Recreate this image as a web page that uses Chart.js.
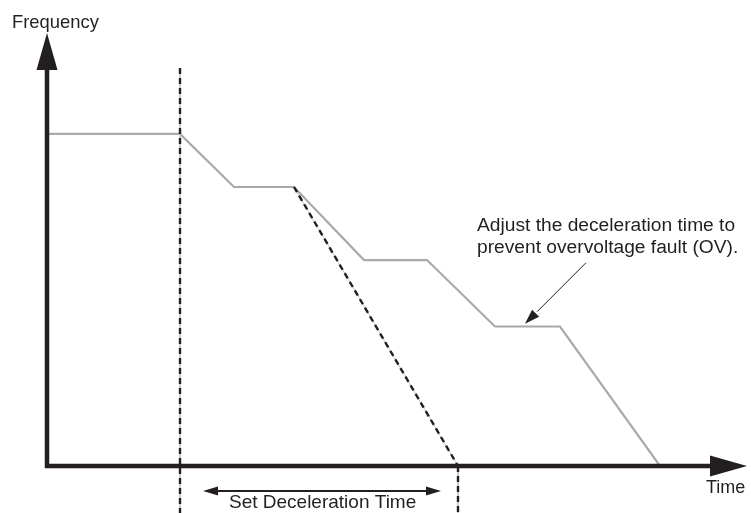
<!DOCTYPE html>
<html>
<head>
<meta charset="utf-8">
<script src="https://cdn.jsdelivr.net/npm/chart.js@4/dist/chart.umd.min.js"></script>
<style>
  body { margin: 0; background: #fff; }
  canvas { display: block; }
</style>
</head>
<body>
<canvas id="myChart" width="751" height="513"></canvas>
<script>
// frequency profile while decelerating (time units / frequency units)
var profileTime = [0, 13.3, 18.7, 24.7, 31.7, 38.0, 44.8, 51.3, 61.3];
var profileFreq = [50, 50, 42, 42, 31, 31, 21, 21, 0];

// the set deceleration ramp
var rampTime = [24.7, 41.1];
var rampFreq = [42, 0];

// markers
var startTime = 13.3;
var endTime = 41.1;
var markerTop = 59.9;
var markerBottom = -7.1;

var axisMaxTime = 70;
var axisMaxFreq = 70;

var labelFreq = "Frequency";
var labelTime = "Time";
var labelSet = "Set Deceleration Time";
var noteLines = ["Adjust the deceleration time to", "prevent overvoltage fault (OV)."];

function pts(xs, ys) {
  var out = [];
  for (var i = 0; i < xs.length; i++) out.push({x: xs[i], y: ys[i]});
  return out;
}

// dashed line with a thin grey line under it, like the original drawing
function dashed(xs, ys, clip) {
  return [
    { data: pts(xs, ys), borderColor: "#231f20", borderWidth: 2.4, borderDash: [6, 4],
      pointRadius: 0, clip: clip, order: 1 },
    { data: pts(xs, ys), borderColor: "#c4c6c8", borderWidth: 1,
      pointRadius: 0, clip: clip, order: 2 }
  ];
}

function arrowHead(ctx, x1, y1, x2, y2, len, half) {
  var a = Math.atan2(y2 - y1, x2 - x1);
  ctx.beginPath();
  ctx.moveTo(x2, y2);
  ctx.lineTo(x2 - len * Math.cos(a) + half * Math.sin(a), y2 - len * Math.sin(a) - half * Math.cos(a));
  ctx.lineTo(x2 - len * Math.cos(a) - half * Math.sin(a), y2 - len * Math.sin(a) + half * Math.cos(a));
  ctx.closePath();
  ctx.fill();
}

var extras = {
  id: "extras",
  afterDatasetsDraw: function (chart) {
    var ctx = chart.ctx;
    var xs = chart.scales.x, ys = chart.scales.y;
    var X = function (v) { return xs.getPixelForValue(v); };
    var Y = function (v) { return ys.getPixelForValue(v); };
    var ink = "#231f20";
    ctx.save();

    // axes
    ctx.strokeStyle = ink;
    ctx.fillStyle = ink;
    ctx.lineWidth = 4.5;
    ctx.lineCap = "butt";
    ctx.beginPath();
    ctx.moveTo(X(0), Y(61));
    ctx.lineTo(X(0), Y(0));
    ctx.lineTo(X(67), Y(0));
    ctx.stroke();
    arrowHead(ctx, X(0), Y(0), X(0), Y(65.2), 37, 10.5);
    arrowHead(ctx, X(0), Y(0), X(70), Y(0), 37, 10.5);

    // double arrow under the axis
    var yArr = Y(-3.76);
    ctx.lineWidth = 2;
    ctx.beginPath();
    ctx.moveTo(X(16.5), yArr);
    ctx.lineTo(X(38.5), yArr);
    ctx.stroke();
    arrowHead(ctx, X(30), yArr, X(15.6), yArr, 15, 4.5);
    arrowHead(ctx, X(20), yArr, X(39.4), yArr, 15, 4.5);

    // annotation arrow
    var ax1 = X(53.9), ay1 = Y(30.6), ax2 = X(47.8), ay2 = Y(21.4);
    ctx.lineWidth = 1;
    ctx.beginPath();
    ctx.moveTo(ax1, ay1);
    ctx.lineTo(ax1 + (ax2 - ax1) * 0.8, ay1 + (ay2 - ay1) * 0.8);
    ctx.stroke();
    arrowHead(ctx, ax1, ay1, ax2, ay2, 15, 5);

    // texts
    ctx.fillStyle = ink;
    ctx.textBaseline = "alphabetic";
    ctx.textAlign = "left";
    ctx.font = "18.4px 'Liberation Sans', Arial, sans-serif";
    ctx.fillText(labelFreq, 12, 28);
    ctx.font = "18px 'Liberation Sans', Arial, sans-serif";
    ctx.fillText(labelTime, 706, 493);
    ctx.font = "19px 'Liberation Sans', Arial, sans-serif";
    ctx.fillText(labelSet, 229, 508);
    ctx.font = "19.2px 'Liberation Sans', Arial, sans-serif";
    ctx.fillText(noteLines[0], 477, 231);
    ctx.fillText(noteLines[1], 477, 253);
    ctx.restore();
  }
};

var datasets = [{
  data: pts(profileTime, profileFreq),
  borderColor: "#a7a9ac",
  borderWidth: 2.2,
  pointRadius: 0,
  order: 3
}];
datasets = datasets.concat(
  dashed(rampTime, rampFreq, true),
  dashed([startTime, startTime], [markerTop, markerBottom], false),
  dashed([endTime, endTime], [0, markerBottom], false)
);

new Chart("myChart", {
  type: "line",
  data: { datasets: datasets },
  options: {
    responsive: false,
    animation: false,
    elements: { line: { tension: 0 } },
    layout: { padding: { left: 47, right: 4, top: 1, bottom: 47 } },
    plugins: { legend: { display: false }, tooltip: { enabled: false } },
    scales: {
      x: { type: "linear", min: 0, max: axisMaxTime, display: false },
      y: { type: "linear", min: 0, max: axisMaxFreq, display: false }
    }
  },
  plugins: [extras]
});
</script>
</body>
</html>
